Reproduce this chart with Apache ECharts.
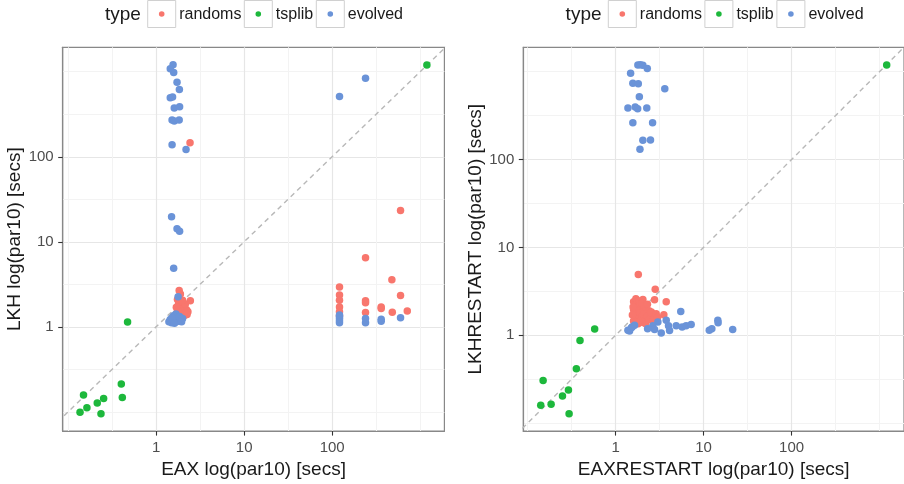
<!DOCTYPE html>
<html>
<head>
<meta charset="utf-8">
<script src="https://cdn.jsdelivr.net/npm/echarts@6/dist/echarts.min.js"></script>
<style>
  html, body { margin: 0; padding: 0; background: #fff; }
  #chart { width: 904px; height: 484px; }
</style>
</head>
<body>
<div id="chart"></div>
<script>
'use strict'

// data in seconds, [x, y]
var types = ['randoms', 'tsplib', 'evolved'];
var colors = ['#F8766D', '#1DB83C', '#6A93D8'];

// left panel: EAX vs LKH
var eaxRandoms = [
    [2.43, 146], [597, 23.4], [1.83, 2.68], [1.89, 2.43], [2.45, 2.03],
    [121, 2.94], [121, 2.37], [121, 2.05], [121, 1.71], [121, 1.50], [121, 1.35],
    [239, 6.5], [239, 2.03], [239, 1.92], [239, 1.47],
    [360, 1.71], [360, 1.64], [476, 3.57], [597, 2.34], [481, 1.48], [712, 1.54],
    [1.75, 2.10], [1.85, 2.00], [1.95, 1.90], [2.05, 1.80], [1.80, 1.85], [1.90, 1.75],
    [2.00, 1.65], [2.10, 1.70], [2.20, 1.60], [1.85, 1.60], [1.95, 1.55], [2.05, 1.50],
    [2.15, 1.45], [2.25, 1.55], [1.80, 1.45], [1.90, 1.40], [2.00, 1.38], [2.10, 1.36],
    [2.30, 1.50], [1.75, 1.55], [2.15, 1.85], [1.70, 1.70], [2.00, 2.05], [2.25, 1.40]
];
var eaxTsplib = [
    [1189, 1202], [0.475, 1.14], [0.403, 0.213], [0.414, 0.148], [0.150, 0.158],
    [0.254, 0.144], [0.215, 0.127], [0.164, 0.112], [0.137, 0.0987], [0.237, 0.095]
];
var eaxEvolved = [
    [1.56, 1211], [1.45, 1087], [1.585, 976], [1.73, 754], [1.84, 618], [1.45, 494],
    [1.54, 503], [1.61, 374], [1.85, 387], [1.52, 271], [1.61, 264], [1.83, 271],
    [1.52, 138], [2.19, 122], [1.50, 19.7], [1.73, 14.2], [1.85, 13.3], [1.585, 4.9],
    [1.78, 2.26], [121, 511], [239, 839],
    [121, 1.12], [121, 1.18], [121, 1.25], [121, 1.32], [121, 1.38],
    [239, 1.25], [239, 1.12], [360, 1.23], [360, 1.16], [597, 1.28],
    [1.40, 1.15], [1.45, 1.22], [1.50, 1.12], [1.55, 1.18], [1.60, 1.25], [1.65, 1.14],
    [1.70, 1.20], [1.75, 1.30], [1.80, 1.16], [1.90, 1.22], [1.58, 1.35], [1.68, 1.42],
    [1.52, 1.28], [1.85, 1.32], [2.00, 1.25], [1.62, 1.10], [1.95, 1.15]
];

// right panel: EAXRESTART vs LKHRESTART
var restartRandoms = [
    [1.81, 4.90], [2.82, 3.35], [2.77, 2.54], [3.76, 2.41], [2.04, 2.56], [3.53, 1.71],
    [1.60, 2.40], [1.65, 2.20], [1.70, 2.60], [1.75, 2.30], [1.80, 2.10], [1.85, 2.45],
    [1.90, 2.25], [1.95, 2.00], [2.00, 2.30], [2.10, 2.15], [2.20, 2.00], [2.30, 2.25],
    [2.40, 1.90], [1.60, 1.95], [1.65, 1.75], [1.70, 1.60], [1.75, 1.90], [1.80, 1.70],
    [1.85, 1.55], [1.90, 1.80], [2.00, 1.65], [2.10, 1.75], [2.20, 1.55], [2.30, 1.65],
    [2.50, 1.80], [2.60, 1.60], [2.55, 1.84], [2.89, 1.76], [1.60, 1.45], [1.70, 1.40],
    [1.80, 1.35], [1.95, 1.45], [2.05, 1.40], [2.20, 1.35], [2.40, 1.50], [2.70, 1.50],
    [3.00, 1.60], [1.55, 1.70], [1.58, 2.10]
];
var restartTsplib = [
    [1203, 1189], [0.578, 1.18], [0.394, 0.871], [0.358, 0.417], [0.150, 0.305],
    [0.291, 0.238], [0.249, 0.204], [0.185, 0.164], [0.141, 0.160], [0.296, 0.128]
];
var restartEvolved = [
    [1.79, 1189], [1.91, 1199], [2.04, 1180], [2.29, 1080], [1.48, 958], [1.57, 738],
    [1.81, 725], [3.62, 636], [1.86, 517], [1.38, 385], [1.67, 395], [1.78, 378],
    [2.26, 385], [1.57, 262], [2.63, 262], [2.04, 165], [2.49, 167], [1.89, 131],
    [5.50, 1.87], [3.76, 1.48], [3.02, 1.42], [2.65, 1.28], [2.77, 1.16], [3.30, 1.06],
    [3.99, 1.28], [4.10, 1.13], [4.88, 1.28], [5.70, 1.24], [6.33, 1.28], [7.22, 1.33],
    [11.6, 1.14], [12.4, 1.19], [14.5, 1.48], [14.6, 1.39], [21.4, 1.16], [1.44, 1.12],
    [1.51, 1.22], [1.64, 1.30], [1.38, 1.14], [2.31, 1.19], [1.55, 1.25]
];

var tickValues = [1, 10, 100];
var minorValues = [0.1, 0.316, 3.16, 31.6, 316, 1000];

var panels = [
    {
        xName: 'EAX log(par10) [secs]', yName: 'LKH log(par10) [secs]',
        series: [eaxRandoms, eaxTsplib, eaxEvolved],
        left: 62.7, xMin: -1.06, xMax: 3.274, yMin: -1.226, yMax: 3.287
    },
    {
        xName: 'EAXRESTART log(par10) [secs]', yName: 'LKHRESTART log(par10) [secs]',
        series: [restartRandoms, restartTsplib, restartEvolved],
        left: 523.3, xMin: -1.049, xMax: 3.277, yMin: -1.09, yMax: 3.276
    }
];

var font = 'Liberation Sans, Arial, sans-serif';
var lg = function (v) { return Math.log10(v); };
var majors = tickValues.map(lg);
var minors = minorValues.map(function (v) { return Math.round(lg(v) * 2) / 2; });

var grids = [], xAxes = [], yAxes = [], series = [], graphics = [];

panels.forEach(function (p, i) {
    grids.push({
        left: p.left, top: 47.3, width: 381.7, height: 385.7,
        show: true, backgroundColor: '#fff', borderColor: '#888', borderWidth: 1.2
    });
    var labelFmt = function (v) { return String(Math.round(Math.pow(10, v))); };
    var axisLine = { show: true, onZero: false, lineStyle: { color: '#888', width: 1.2 } };
    var axisTick = { show: true, inside: false, length: 4.5, customValues: majors, lineStyle: { color: '#333', width: 1.1 } };
    // main axes
    xAxes.push({
        type: 'value', gridIndex: i, min: p.xMin, max: p.xMax, position: 'bottom',
        name: p.xName, nameLocation: 'middle', nameGap: 26,
        nameTextStyle: { fontFamily: font, fontSize: 19, color: '#1a1a1a' },
        axisLine: axisLine,
        axisTick: axisTick,
        axisLabel: { customValues: majors, formatter: labelFmt, margin: 9, fontFamily: font, fontSize: 15, color: '#4d4d4d' },
        splitLine: { show: true, lineStyle: { color: '#e6e6e6', width: 1.2 } }
    });
    yAxes.push({
        type: 'value', gridIndex: i, min: p.yMin, max: p.yMax, position: 'left',
        name: p.yName, nameLocation: 'middle', nameGap: 38,
        nameTextStyle: { fontFamily: font, fontSize: 19, color: '#1a1a1a' },
        axisLine: axisLine,
        axisTick: axisTick,
        axisLabel: { customValues: majors, formatter: labelFmt, margin: 9, fontFamily: font, fontSize: 15, color: '#4d4d4d' },
        splitLine: { show: true, lineStyle: { color: '#e6e6e6', width: 1.2 } }
    });
    // minor grid axes
    xAxes.push({
        type: 'value', gridIndex: i, min: p.xMin, max: p.xMax, position: 'bottom',
        axisLine: { show: false, onZero: false }, axisLabel: { show: false },
        axisTick: { show: false, customValues: minors },
        splitLine: { show: true, lineStyle: { color: '#f3f3f3', width: 1 } }
    });
    yAxes.push({
        type: 'value', gridIndex: i, min: p.yMin, max: p.yMax, position: 'left',
        axisLine: { show: false, onZero: false }, axisLabel: { show: false },
        axisTick: { show: false, customValues: minors },
        splitLine: { show: true, lineStyle: { color: '#f3f3f3', width: 1 } }
    });

    // y = x reference
    series.push({
        type: 'line', xAxisIndex: i * 2, yAxisIndex: i * 2, silent: true, symbol: 'none',
        data: [[-2, -2], [4, 4]], z: 1,
        lineStyle: { color: '#b8b8b8', width: 1.4, type: [5, 4] }
    });
    p.series.forEach(function (d, k) {
        series.push({
            name: types[k], type: 'scatter', xAxisIndex: i * 2, yAxisIndex: i * 2,
            symbolSize: 7.5, z: 2 + k,
            itemStyle: { color: colors[k], opacity: 1 },
            data: d.map(function (pt) { return [lg(pt[0]), lg(pt[1])]; })
        });
    });

    // legend (ggplot style keys)
    var off = p.left - 62.7;
    var keyX = [147.7, 244.3, 316.3];
    graphics.push({
        type: 'text',
        style: { text: 'type', x: 105 + off, y: 15, verticalAlign: 'middle', fontFamily: font, fontSize: 19, fill: '#1a1a1a' }
    });
    types.forEach(function (t, k) {
        graphics.push({
            type: 'rect', shape: { x: keyX[k] + off, y: 0.5, width: 28, height: 27 },
            style: { fill: '#fff', stroke: '#d0d0d0', lineWidth: 1 }
        });
        graphics.push({
            type: 'circle', shape: { cx: keyX[k] + off + 14, cy: 14, r: 2.8 },
            style: { fill: colors[k] }
        });
        graphics.push({
            type: 'text',
            style: { text: t, x: keyX[k] + off + 31.5, y: 14.5, verticalAlign: 'middle', fontFamily: font, fontSize: 16, fill: '#1a1a1a' }
        });
    });
});

var myChart = echarts.init(document.getElementById('chart'));
myChart.setOption({
    animation: false,
    backgroundColor: '#fff',
    grid: grids,
    xAxis: xAxes,
    yAxis: yAxes,
    series: series,
    graphic: graphics
});
</script>
</body>
</html>
